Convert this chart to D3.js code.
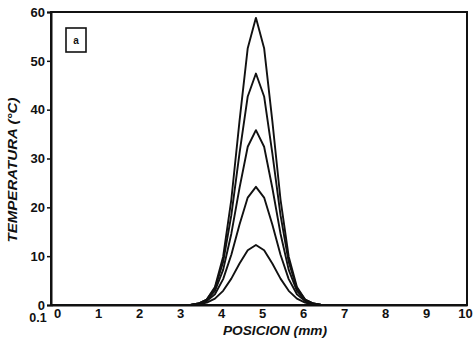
<!DOCTYPE html>
<html><head><meta charset="utf-8">
<script src="https://cdn.jsdelivr.net/npm/d3@7"></script>
<style>body{margin:0;background:#fff}svg{display:block}text{font-family:"Liberation Sans",Arial,sans-serif;font-weight:bold;fill:#111}</style>
</head><body>
<script>
// Data
const positions = [0, 3.05, 3.25, 3.45, 3.65, 3.85, 4.05, 4.25, 4.45, 4.65, 4.85, 5.05, 5.25, 5.45, 5.65, 5.85, 6.05, 6.25, 6.45, 6.65, 10];
const series = [
  [0, 0, 0.0, 0.3, 1.1, 3.7, 9.9, 21.6, 37.7, 52.6, 58.8, 52.6, 37.7, 21.6, 9.9, 3.7, 1.1, 0.3, 0.0, 0, 0],
  [0, 0, 0.0, 0.3, 1.1, 3.4, 8.8, 18.4, 31.1, 42.7, 47.4, 42.7, 31.1, 18.4, 8.8, 3.4, 1.1, 0.3, 0.0, 0, 0],
  [0, 0, 0.0, 0.3, 1.0, 2.9, 7.2, 14.6, 24.0, 32.4, 35.8, 32.4, 24.0, 14.6, 7.2, 2.9, 1.0, 0.3, 0.0, 0, 0],
  [0, 0, 0.0, 0.2, 0.8, 2.2, 5.3, 10.3, 16.5, 22.0, 24.2, 22.0, 16.5, 10.3, 5.3, 2.2, 0.8, 0.2, 0.0, 0, 0],
  [0, 0, 0.0, 0.1, 0.5, 1.3, 2.9, 5.4, 8.5, 11.2, 12.3, 11.2, 8.5, 5.4, 2.9, 1.3, 0.5, 0.1, 0.0, 0, 0]
];
const xTicks = [0, 1, 2, 3, 4, 5, 6, 7, 8, 9, 10];
const yTicks = [0, 10, 20, 30, 40, 50, 60];
const panelLabel = "a";
const xTitle = "POSICION (mm)";
const yTitle = "TEMPERATURA (°C)";
const strayLabel = "0.1";

const W = 473, H = 339;
const svg = d3.select("body").append("svg").attr("width", W).attr("height", H);
const x = d3.scaleLinear().domain([-0.15, 10]).range([51, 467]);
const y = d3.scaleLinear().domain([0, 60]).range([305, 12]);

// frame
svg.append("rect").attr("x", x(-0.15)).attr("y", y(60)).attr("width", x(10) - x(-0.15)).attr("height", y(0) - y(60))
  .attr("fill", "none").attr("stroke", "#111").attr("stroke-width", 2);

// y axis
const yAxis = svg.append("g").attr("transform", `translate(${x(-0.15)},0)`)
  .call(d3.axisLeft(y).tickValues(yTicks).tickSize(4).tickPadding(2).tickFormat(d3.format("d")));
yAxis.select(".domain").attr("stroke-width", 2).attr("stroke", "#111");
yAxis.selectAll(".tick line").attr("stroke-width", 1.5).attr("stroke", "#111");
yAxis.selectAll("text").style("font-size", "13px").attr("font-family", null);

// x axis (labels only)
const xAxis = svg.append("g").attr("transform", `translate(0,${y(0)})`)
  .call(d3.axisBottom(x).tickValues(xTicks).tickSize(0).tickPadding(4).tickFormat(d3.format("d")));
xAxis.select(".domain").attr("stroke-width", 2).attr("stroke", "#111");
xAxis.selectAll("text").style("font-size", "13px").attr("font-family", null)
  .attr("dx", d => d === 10 ? -2 : 0);

svg.append("text").attr("x", 38).attr("y", 322).attr("text-anchor", "middle").style("font-size", "12.5px").text(strayLabel);

// curves
const line = d3.line().x((d, i) => x(positions[i])).y(d => y(d));
series.forEach(s => {
  svg.append("path").datum(s).attr("d", line).attr("fill", "none").attr("stroke", "#111")
    .attr("stroke-width", 1.9).attr("stroke-linejoin", "round");
});

// panel label box
svg.append("rect").attr("x", 66).attr("y", 28).attr("width", 20).attr("height", 24)
  .attr("fill", "none").attr("stroke", "#111").attr("stroke-width", 1.6);
svg.append("text").attr("x", 76).attr("y", 44).attr("text-anchor", "middle").style("font-size", "10px").text(panelLabel);

// titles
svg.append("text").attr("x", 275).attr("y", 335).attr("text-anchor", "middle")
  .style("font-size", "13px").style("font-style", "italic")
  .attr("textLength", 104).attr("lengthAdjust", "spacingAndGlyphs").text(xTitle);
svg.append("text").attr("transform", "translate(17,170) rotate(-90)").attr("text-anchor", "middle")
  .style("font-size", "12.5px").style("font-style", "italic")
  .attr("textLength", 145).attr("lengthAdjust", "spacingAndGlyphs").text(yTitle);
</script>
</body></html>
